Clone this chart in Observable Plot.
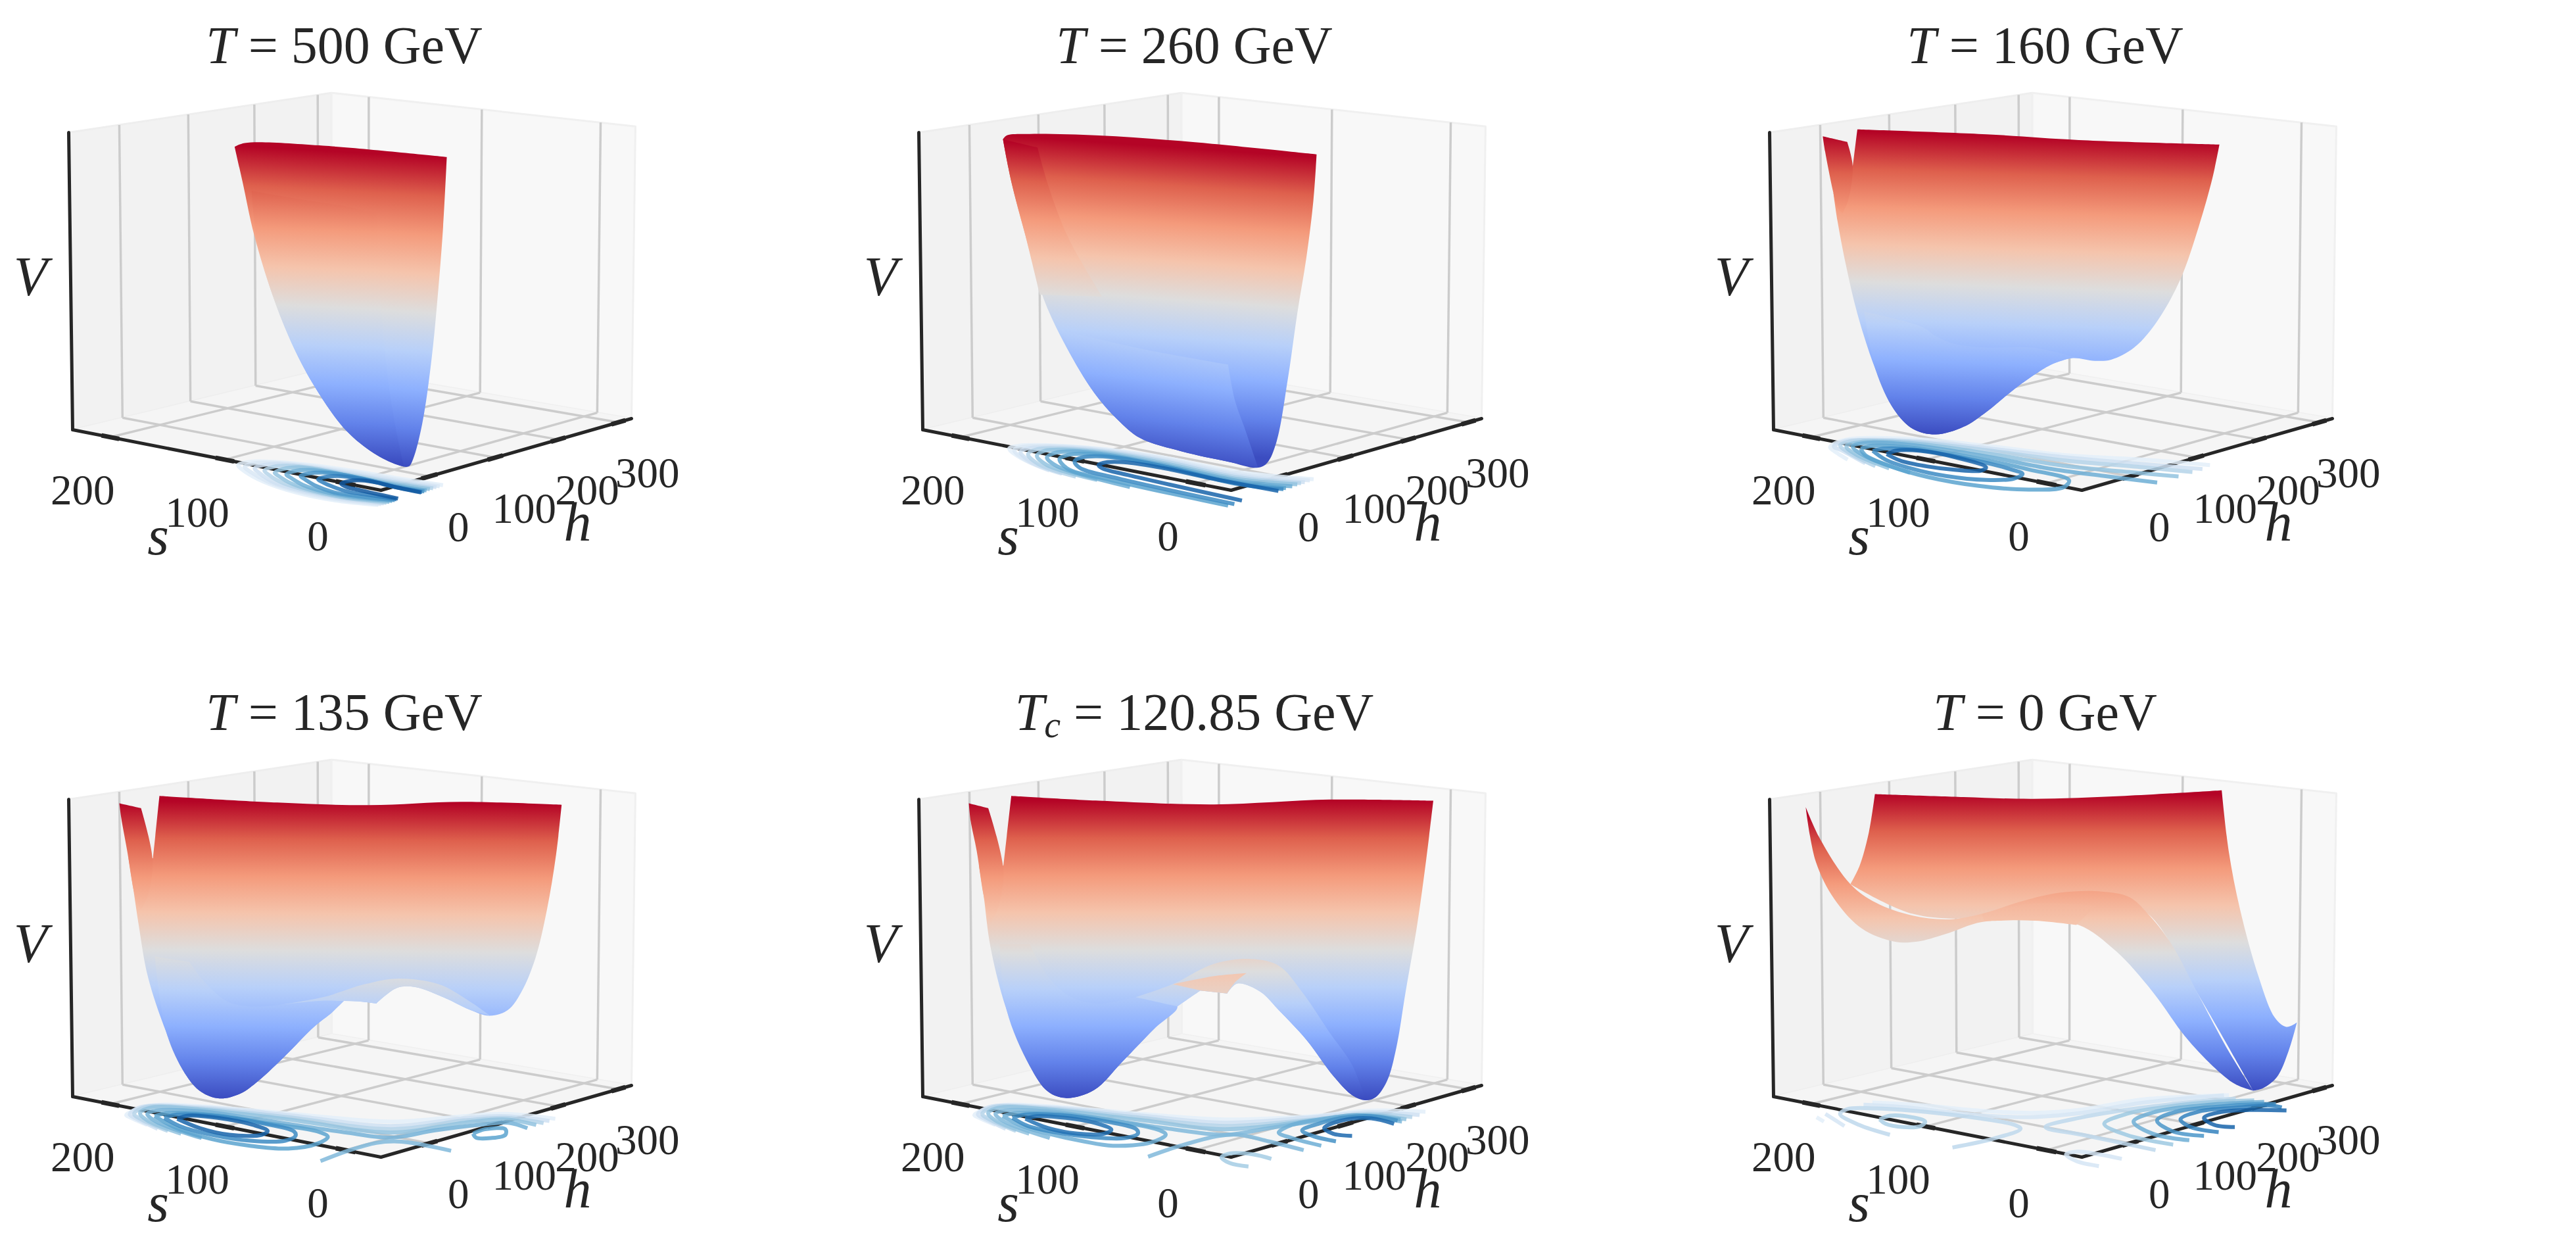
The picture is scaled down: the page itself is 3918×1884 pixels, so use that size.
<!DOCTYPE html>
<html>
<head>
<meta charset="utf-8">
<script src="https://cdn.jsdelivr.net/npm/d3@7"></script>
<script src="https://cdn.jsdelivr.net/npm/@observablehq/plot@0.6"></script>
<style>
  body { margin: 0; background: white; overflow: hidden; }
  svg { display: block; }
</style>
</head>
<body>
<div id="chart"></div>
<script>
const titles = ['T = 500 GeV', 'T = 260 GeV', 'T = 160 GeV', 'T = 135 GeV', 'Tc = 120.85 GeV', 'T = 0 GeV']
const sTicks = [0, 100, 200]
const hTicks = [0, 100, 200, 300]
const panelX = [0, 1293, 2587, 0, 1293, 2587]
const panelY = [0, 0, 0, 1014, 1014, 1014]
const coolwarm = ['#b40426', '#de604d', '#f49a7b', '#f5c4ac', '#dddddd', '#b8d0f9', '#8db0fe', '#6282ea', '#3b4cc0']

// crops the shapes were read from: origin and zoom of each
const panelCrop = [
  {x: 0, y: 0, kx: 1.4255, ky: 1.7422}, {x: 1250, y: 0, kx: 1.4255, ky: 1.7422}, {x: 2600, y: 0, kx: 1.4255, ky: 1.7422},
  {x: 0, y: 1000, kx: 1.4255, ky: 1.7738}, {x: 1250, y: 1000, kx: 1.4255, ky: 1.7738}, {x: 2600, y: 1000, kx: 1.4255, ky: 1.7738}
]
const contourCrop = [
  {x: 300, y: 660, kx: 3, ky: 3}, {x: 1500, y: 640, kx: 2.613, ky: 3}, {x: 2760, y: 640, kx: 2.613, ky: 3},
  {x: 170, y: 1660, kx: 2.24, ky: 3}, {x: 1460, y: 1660, kx: 2.24, ky: 3}, {x: 2720, y: 1660, kx: 2.24, ky: 3}
]

// surface sheets, back to front. a third value 1 marks a sharp corner.
// band = [x, y of top colour at x, y of bottom colour at x, tilt]
const sheets500 = [
  {band: [508, 385, 1209, .07], pts: [[508,388,1],[530,378],[700,385],[968,415,1],[960,600],[950,760],[935,950],[915,1120],[895,1215],[885,1235],[860,1230],[810,1200],[750,1140],[690,1040],[640,930],[590,780],[550,620],[525,480]]},
  {band: [508, 395, 1209, .05], pts: [[545,505,1],[640,525],[760,548],[790,558],[815,560,1],[825,800],[840,1000],[860,1150],[875,1235,1],[860,1230],[810,1200],[750,1140],[690,1040],[640,930],[590,780],[555,625]]}
]
const sheets260 = [
  {band: [392, 358, 1160, .085], pts: [[392,368,1],[400,358],[450,354],[600,358],[800,375],[1072,408,1],[1065,530],[1050,680],[1030,830],[1010,1000],[985,1170],[965,1225],[945,1238],[880,1222],[780,1195],[690,1160],[640,1110],[590,1040],[530,920],[480,790],[440,620],[410,480]]},
  {band: [392, 375, 1170, .085], pts: [[392,368,1],[467,390,1],[490,490],[530,620],[570,710],[607,785,1],[472,780,1],[440,620],[410,480]]},
  {band: [392, 333, 1155, .15], pts: [[520,875,1],[700,925],[880,965,1],[895,1060],[915,1130],[945,1238,1],[880,1222],[780,1195],[690,1160],[640,1110],[590,1040],[545,950]]}
]
const sheets160 = [
  {band: [250, 345, 1140, .04], pts: [[320,342,1],[600,355],[800,370],[1105,382,1],[1090,470],[1060,600],[1020,740],[970,850],[920,920],[870,952],[835,955],[785,948],[740,965],[700,995],[650,1040],[600,1090],[550,1130],[490,1150],[440,1135],[400,1085],[360,980],[320,830],[295,700],[277,585],[268,510,1],[300,510,1],[310,440,1]]},
  {band: [250, 358, 1140, .04], pts: [[245,360,1],[298,375,1],[310,440],[300,530],[288,563,1],[277,550],[268,510],[250,400]]},
  {band: [250, 372, 1140, .04], pts: [[335,825,1],[460,865],[490,890],[530,910],[600,920],[700,920],[790,945,1],[740,965],[700,995],[650,1040],[600,1090],[550,1130],[490,1150],[440,1135],[400,1085],[360,980]]}
]
const sheets135 = [
  {band: [258, 385, 1186, .01], pts: [[345,372,1],[600,390],[800,397],[1000,388],[1217,396,1],[1205,530],[1185,680],[1160,810],[1130,900],[1100,950],[1060,965],[1020,950],[960,915],[900,888],[860,890],[815,932,1],[790,928],[745,925],[720,955],[680,995],[620,1070],[560,1140],[520,1175],[475,1188],[435,1170],[400,1120],[360,1010],[320,860],[300,720],[288,620],[278,540,1],[331,540,1]]},
  {band: [258, 392, 1186, .01], pts: [[258,392,1],[305,405,1],[330,545],[320,640],[305,680,1],[292,640],[275,520],[262,430]]},
  {band: [258, 410, 1186, .01], pts: [[335,805,1],[410,820,1],[440,870],[490,925],[540,940],[610,935],[700,915,1],[745,925,1],[720,955],[680,995],[620,1070],[560,1140],[520,1175],[475,1188],[435,1170],[400,1120],[360,1010]]},
  {band: [258, 510, 1190, .01], pts: [[610,935,1],[700,915],[790,880],[860,865],[950,880],[1010,920],[1062,965,1],[1020,950],[960,915],[900,888],[860,890],[815,932,1],[790,928],[745,925],[690,925]]}
]
const sheets120 = [
  {band: [318, 385, 1190, 0], pts: [[410,372,1],[600,385],[850,395],[1100,382],[1325,385,1],[1310,540],[1290,720],[1265,900],[1245,1050],[1225,1140],[1200,1185],[1178,1193],[1150,1180],[1110,1130],[1050,1030],[990,950],[950,900],[900,878],[878,905,1],[820,897,1],[770,940],[720,1000],[650,1090],[590,1165],[530,1187],[490,1170],[450,1100],[400,950],[365,780],[350,640],[340,560,1],[393,560,1]]},
  {band: [318, 392, 1190, 0], pts: [[318,392,1],[360,405,1],[393,575],[380,680],[365,715,1],[350,640],[335,520],[322,440]]},
  {band: [318, 400, 1190, 0], pts: [[385,772,1],[450,772,1],[490,860],[540,915],[600,932],[680,915,1],[770,940],[720,1000],[650,1090],[590,1165],[530,1187],[490,1170],[450,1100],[400,950]]},
  {band: [318, 498, 1190, 0], pts: [[680,915,1],[760,880],[850,825],[930,812],[990,830],[1040,900],[1100,1010],[1150,1100],[1178,1193,1],[1150,1180],[1110,1130],[1050,1030],[990,950],[950,900],[900,878],[878,905,1],[820,897,1],[770,940,1]]},
  {band: [318, 440, 1500, 0], pts: [[760,880,1],[850,858],[920,850,1],[895,875],[878,905,1],[820,897,1]]}
]
const sheets0 = [
  {band: [208, 367, 1167, 0], pts: [[358,367,1],[550,375],[700,380],[900,372],[1110,357,1],[1125,520],[1150,680],[1190,860],[1225,970],[1250,995],[1273,983,1],[1255,1060],[1230,1130],[1200,1160],[1178,1167,1],[1060,910],[950,690],[850,640],[590,700],[440,690],[305,610,1],[325,560],[345,470]]},
  {band: [208, 421, 1167, 0], pts: [[208,402,1],[240,490],[305,610],[360,660],[440,695],[520,705],[590,690],[680,655],[760,633],[850,630],[910,645],[950,690],[1000,770],[1060,910],[1120,1050],[1178,1167,1],[1140,1150],[1090,1100],[1030,1020],[960,900],[880,790],[800,720],[700,708],[590,712],[510,745],[450,765],[400,765],[330,730],[270,650],[230,550]]},
  {band: [208, 300, 1400, 0], pts: [[590,690,1],[680,665],[750,662],[838,668,1],[795,720,1],[700,708],[595,710,1]]}
]
const sheets = [sheets500, sheets260, sheets160, sheets135, sheets120, sheets0]

// contour levels on the plane under the box: [level, points]
const contours500 = [
  [.1, [[825,322],[620,300],[450,265],[300,215],[210,165],[185,140],[240,125],[340,125],[500,138],[700,165],[900,198],[1120,232]]],
  [.15, [[838,318],[630,295],[460,260],[320,215],[240,170],[215,148],[260,132],[350,130],[500,143],[700,172],[900,205],[1105,237]]],
  [.2, [[850,315],[640,290],[480,258],[350,220],[280,175],[260,155],[300,140],[380,136],[520,150],[700,178],[900,212],[1090,241]]],
  [.3, [[862,312],[660,288],[510,258],[390,222],[325,185],[305,165],[345,148],[420,143],[540,156],[700,184],[900,219],[1075,246]]],
  [.4, [[875,308],[680,288],[540,260],[430,225],[370,190],[352,175],[390,158],[460,150],[570,164],[700,190],[900,226],[1060,250]]],
  [.5, [[888,304],[700,284],[570,260],[480,230],[425,198],[405,183],[440,168],[510,162],[600,172],[720,196],[900,232],[1045,256]]],
  [.6, [[900,300],[730,282],[620,264],[540,235],[490,205],[470,190],[510,178],[570,174],[650,182],[760,203],[900,238],[1035,260]]],
  [.7, [[908,296],[780,276],[690,262],[620,240],[570,218],[550,205],[585,194],[640,190],[710,197],[800,215],[900,240],[1025,263]]],
  [.85, [[915,293],[800,268],[730,252],[680,240],[655,225],[690,213],[750,210],[820,220],[900,240],[1020,265]]]
]
const contours260 = [
  [.1, [[210,205],[140,170],[90,125],[130,112],[250,110],[450,125],[700,165],[1000,232],[1300,265]]],
  [.15, [[250,225],[160,180],[110,132],[150,116],[260,113],[450,128],[700,170],[1000,240],[1285,270]]],
  [.2, [[300,240],[180,188],[135,140],[175,122],[270,118],[450,132],[700,176],[1000,248],[1265,278]]],
  [.3, [[355,253],[205,195],[165,150],[200,128],[290,124],[460,138],[700,182],[1000,256],[1250,283]]],
  [.4, [[440,268],[240,200],[200,157],[230,135],[310,130],[470,145],[700,190],[1000,264],[1235,288]]],
  [.5, [[570,300],[280,205],[240,165],[270,145],[340,137],[480,152],[700,198],[1000,272],[1215,297]]],
  [.55, [[960,385],[500,270],[320,215],[290,172],[320,155],[380,148],[510,162],[700,205],[1000,280],[1190,305]]],
  [.65, [[985,378],[520,260],[370,212],[350,182],[380,165],[440,160],[550,172],[720,210],[1000,287],[1180,310]]],
  [.8, [[1015,362],[560,245],[460,215],[445,200],[480,187],[560,188],[700,213],[900,262],[1160,318]]]
]
const contours160 = [
  [.1, [[130,175],[75,135],[60,118],[120,85],[400,82],[700,115],[1000,155],[1300,175],[1570,200]]],
  [.2, [[200,192],[110,135],[75,115],[120,90],[170,85],[400,90],[700,125],[1000,165],[1300,195],[1540,218]]],
  [.3, [[240,205],[130,140],[100,110],[150,90],[400,95],[700,135],[1000,180],[1300,210],[1500,232]]],
  [.4, [[295,215],[160,150],[125,115],[180,95],[400,102],[700,150],[1000,205],[1250,232],[1445,252]]],
  [.5, [[378,235],[200,160],[150,115],[210,98],[400,110],[700,165],[950,220],[1150,250],[1360,280]]],
  [.55, [[182,125],[230,112],[380,120],[600,160],[850,220],[1010,270],[990,300],[850,312],[650,295],[450,255],[300,205],[200,155],[182,125]]],
  [.65, [[230,135],[270,125],[400,130],[600,170],[780,220],[825,240],[790,262],[680,268],[520,250],[380,215],[280,175],[230,135]]],
  [.8, [[285,150],[320,135],[420,135],[560,165],[680,210],[660,225],[560,222],[440,205],[340,180],[285,150]]]
]
const contours135 = [
  [.1, [[120,150],[60,115],[48,105],[130,62],[300,65],[600,98],[950,135],[1200,110],[1340,100],[1510,122]]],
  [.2, [[155,168],[80,120],[60,102],[100,68],[300,70],[600,105],[950,155],[1200,120],[1340,110],[1490,132]]],
  [.3, [[190,178],[100,125],[75,100],[110,70],[300,75],[600,115],[950,170],[1200,130],[1340,118],[1470,142]]],
  [.4, [[235,190],[120,130],[95,97],[130,72],[300,80],[600,125],[950,185],[1200,140],[1340,125],[1445,150]]],
  [.48, [[305,210],[150,135],[120,100],[150,85],[300,88],[500,125],[800,185],[950,208],[1100,175],[1250,150],[1350,140],[1415,165]]],
  [.45, [[710,315],[810,265],[900,232],[960,225],[1020,232],[1155,268]]],
  [.55, [[1230,190],[1270,170],[1340,170],[1340,195],[1290,210],[1240,208],[1230,190]]],
  [.55, [[145,110],[185,97],[350,105],[540,145],[700,180],[735,205],[700,235],[600,258],[470,245],[340,215],[220,165],[145,110]]],
  [.65, [[178,118],[220,103],[340,108],[500,140],[620,180],[625,200],[590,222],[470,222],[340,195],[230,155],[178,118]]],
  [.8, [[222,122],[260,108],[360,118],[480,150],[530,178],[510,195],[400,195],[300,165],[222,122]]]
]
const contours120 = [
  [.1, [[120,150],[60,115],[48,105],[130,62],[300,65],[600,98],[900,125],[1200,110],[1400,85],[1585,90]]],
  [.2, [[155,168],[80,120],[60,102],[100,68],[300,70],[600,105],[900,140],[1200,115],[1400,92],[1565,105]]],
  [.3, [[190,178],[100,125],[75,100],[110,70],[300,75],[600,115],[900,155],[1200,125],[1400,100],[1540,115]]],
  [.4, [[235,190],[120,130],[95,97],[130,72],[300,80],[600,125],[900,170],[1200,130],[1400,105],[1520,125]]],
  [.45, [[305,210],[150,135],[120,100],[150,85],[300,88],[500,125],[700,165],[905,195],[1050,165],[1200,135],[1350,110],[1505,135]]],
  [.45, [[640,295],[750,245],[880,200],[950,195],[1050,225],[1170,265]]],
  [.35, [[1060,305],[1000,285],[920,280],[890,298],[920,325],[982,340]]],
  [.5, [[145,110],[185,97],[340,100],[540,135],[680,175],[700,195],[650,230],[520,245],[420,225],[300,190],[210,155],[145,110]]],
  [.65, [[178,118],[220,103],[340,105],[500,135],[600,170],[605,190],[560,210],[440,205],[330,185],[230,155],[178,118]]],
  [.75, [[222,122],[260,110],[360,118],[470,145],[515,172],[490,190],[400,190],[300,165],[222,122]]],
  [.5, [[1230,245],[1130,210],[1085,185],[1130,150],[1250,120],[1350,105],[1500,125]]],
  [.62, [[1280,225],[1200,200],[1165,175],[1220,145],[1300,118],[1400,110],[1490,130]]],
  [.78, [[1335,200],[1270,190],[1240,165],[1300,130],[1400,120],[1478,145]]]
]
const contours0 = [
  [.1, [[95,115],[120,135]]],
  [.17, [[125,100],[190,155]]],
  [.1, [[285,48],[450,60],[650,85],[830,95],[1000,80],[1200,35],[1500,15]]],
  [.17, [[255,58],[400,70],[600,100],[800,115],[1000,95],[1200,50],[1483,15]]],
  [.27, [[345,195],[240,150],[175,100],[200,78],[300,75],[500,95],[650,120],[770,150],[790,168],[700,212],[558,253]]],
  [.33, [[310,125],[345,108],[420,115],[465,135],[450,155],[390,160],[330,145],[310,125]]],
  [.17, [[1135,305],[1060,285],[980,272],[945,285],[980,315],[1057,338]]],
  [.27, [[1250,265],[1000,195],[875,160],[1000,115],[1200,72],[1400,42],[1523,30]]],
  [.37, [[1310,240],[1150,195],[1075,145],[1150,100],[1300,65],[1450,45],[1586,38]]],
  [.5, [[1365,220],[1240,190],[1175,135],[1250,90],[1400,62],[1530,50],[1620,45]]],
  [.6, [[1415,200],[1310,180],[1255,130],[1320,90],[1450,68],[1600,55],[1660,55]]],
  [.68, [[1465,183],[1370,160],[1335,125],[1400,88],[1520,72],[1642,62],[1680,70]]],
  [.8, [[1520,160],[1450,150],[1415,118],[1470,92],[1570,82],[1696,84]]]
]
const contours = [contours500, contours260, contours160, contours135, contours120, contours0]

// box projection: corners of the box in one panel, and their perspective weights
const O = [579, 745], A = [110, 653], B = [960, 636], C = [579.7, 261.2]
const wA = 1.0725, wB = 1.0912, wC = 0.985
const uOf = s => 0.108 + 0.00381 * s
const wOf = h => 0.18 + 0.002545 * h

function project(p, u, w, t) {
  const d = 1 + (wA - 1) * u + (wB - 1) * w + (wC - 1) * t
  return {
    panel: p,
    x: panelX[p] + (O[0] + u * (wA * A[0] - O[0]) + w * (wB * B[0] - O[0]) + t * (wC * C[0] - O[0])) / d,
    y: panelY[p] + (O[1] + u * (wA * A[1] - O[1]) + w * (wB * B[1] - O[1]) + t * (wC * C[1] - O[1])) / d
  }
}
const seg = (a, b) => ({x1: a.x, y1: a.y, x2: b.x, y2: b.y})
const fromCrop = (c, [x, y]) => ({x: c.x + x / c.kx, y: c.y + y / c.ky})

const panels = d3.range(6)
const leftWall = panels.flatMap(p => [[1,0,0],[1,1,0],[1,1,1],[1,0,1]].map(q => project(p, ...q)))
const rightWall = panels.flatMap(p => [[0,1,0],[1,1,0],[1,1,1],[0,1,1]].map(q => project(p, ...q)))
const floor = panels.flatMap(p => [[0,0,0],[1,0,0],[1,1,0],[0,1,0]].map(q => project(p, ...q)))
const gridLines = panels.flatMap(p => [
  ...sTicks.map(s => seg(project(p, uOf(s), 0, 0), project(p, uOf(s), 1, 0))),
  ...hTicks.map(h => seg(project(p, 0, wOf(h), 0), project(p, 1, wOf(h), 0))),
  ...sTicks.map(s => seg(project(p, uOf(s), 1, 0), project(p, uOf(s), 1, 1))),
  ...hTicks.map(h => seg(project(p, 1, wOf(h), 0), project(p, 1, wOf(h), 1)))
])
const spines = panels.flatMap(p => [
  seg(project(p, 1, 0, 1), project(p, 1, 0, 0)),
  seg(project(p, 1, 0, 0), project(p, 0, 0, 0)),
  seg(project(p, 0, 0, 0), project(p, 0, 1, 0))
])
const tickMarks = panels.flatMap(p => [
  ...sTicks.map(s => seg(project(p, uOf(s) + .03, 0, 0), project(p, uOf(s) - .03, 0, 0))),
  ...hTicks.map(h => seg(project(p, 0, wOf(h) + .03, 0), project(p, 0, wOf(h) - .03, 0)))
])
const sLabels = panels.flatMap(p => sTicks.map(s => ({...project(p, uOf(s), 0, 0), text: String(s)})))
const hLabels = panels.flatMap(p => hTicks.map(h => ({...project(p, 0, wOf(h), 0), text: String(h)})))
const axisNames = panels.flatMap(p => [
  {x: panelX[p] + 240, y: panelY[p] + 816, text: 's'},
  {x: panelX[p] + 878, y: panelY[p] + 795, text: 'h'},
  {x: panelX[p] + 46, y: panelY[p] + 422, text: 'V'}
])
const titleRows = panels.map(p => ({x: panelX[p] + 523, y: panelY[p] + 70, text: titles[p]}))

// surface sheets as closed outlines, corners doubled so the spline keeps them sharp
const sheetRows = panels.flatMap(p => sheets[p].map((sh, i) => ({
  id: `sheet${p}-${i}`, panel: p, band: sh.band,
  pts: sh.pts.flatMap(q => (q[2] ? [q, q] : [q]).map(r => fromCrop(panelCrop[p], r)))
})))
const contourRows = panels.flatMap(p => contours[p].flatMap(([level, pts], i) =>
  pts.map(q => ({...fromCrop(contourCrop[p], q), level, id: `${p}-${i}`}))))

const textFont = {fontFamily: '"Liberation Serif", serif', fill: '#262626'}

const chart = Plot.plot({
  width: 3918,
  height: 1884,
  margin: 0,
  x: {domain: [0, 3918], range: [0, 3918], axis: null},
  y: {domain: [0, 1884], range: [0, 1884], axis: null},
  color: {type: 'linear', scheme: 'blues', domain: [0, 1]},
  style: {background: 'white'},
  marks: [
    Plot.line(leftWall, {x: 'x', y: 'y', z: 'panel', curve: 'linear-closed', fill: '#f2f2f2', stroke: '#eeeeee', strokeWidth: 3}),
    Plot.line(rightWall, {x: 'x', y: 'y', z: 'panel', curve: 'linear-closed', fill: '#f8f8f8', stroke: '#f0f0f0', strokeWidth: 3}),
    Plot.line(floor, {x: 'x', y: 'y', z: 'panel', curve: 'linear-closed', fill: '#f5f5f5', stroke: 'none'}),
    Plot.link(gridLines, {x1: 'x1', y1: 'y1', x2: 'x2', y2: 'y2', stroke: '#cccccc', strokeWidth: 3.5}),
    Plot.link(spines, {x1: 'x1', y1: 'y1', x2: 'x2', y2: 'y2', stroke: '#262626', strokeWidth: 5, strokeLinecap: 'round'}),
    Plot.link(tickMarks, {x1: 'x1', y1: 'y1', x2: 'x2', y2: 'y2', stroke: '#262626', strokeWidth: 7}),
    ...sheetRows.map(sh => Plot.line(sh.pts, {x: 'x', y: 'y', curve: 'catmull-rom-closed', fill: `url(#${sh.id})`, stroke: 'none'})),
    Plot.line(contourRows, {x: 'x', y: 'y', z: 'id', stroke: 'level', strokeWidth: 6, strokeOpacity: .85, strokeLinecap: 'butt', curve: 'catmull-rom'}),
    Plot.text(sLabels, {x: 'x', y: 'y', text: 'text', dx: -42, dy: 81, fontSize: 65, ...textFont}),
    Plot.text(hLabels, {x: 'x', y: 'y', text: 'text', dx: 44, dy: 78, fontSize: 65, ...textFont}),
    Plot.text(axisNames, {x: 'x', y: 'y', text: 'text', fontSize: 84, fontStyle: 'italic', ...textFont}),
    Plot.text(titleRows, {x: 'x', y: 'y', text: 'text', fontSize: 80, className: 'panel-title', ...textFont})
  ]
})

// colour bands of the sheets, placed with the plot's own scales
const xs = chart.scale('x'), ys = chart.scale('y')
const defs = d3.select(chart).append('defs')
sheetRows.forEach(sh => {
  const c = panelCrop[sh.panel]
  const [xa, ya, yb, tilt] = sh.band
  const top = fromCrop(c, [xa, ya]), bottom = fromCrop(c, [xa, yb])
  const x1 = xs.apply(top.x), y1 = ys.apply(top.y), H = ys.apply(bottom.y) - y1
  const m = tilt * c.kx / c.ky
  const g = defs.append('linearGradient').attr('id', sh.id).attr('gradientUnits', 'userSpaceOnUse')
    .attr('x1', x1).attr('y1', y1).attr('x2', x1 - m * H).attr('y2', y1 + H)
  coolwarm.forEach((col, i) => g.append('stop').attr('offset', i / (coolwarm.length - 1)).attr('stop-color', col))
})

// math italics in the titles
d3.select(chart).selectAll('.panel-title text').each(function () {
  const t = this.textContent
  const sub = t.startsWith('Tc')
  const el = d3.select(this).text('')
  el.append('tspan').attr('font-style', 'italic').text('T')
  if (sub) el.append('tspan').attr('font-style', 'italic').attr('font-size', '0.7em').attr('dy', '0.2em').text('c')
  el.append('tspan').attr('dy', sub ? '-0.14em' : null).text(t.slice(sub ? 2 : 1))
})

document.getElementById('chart').append(chart)
</script>
</body>
</html>
